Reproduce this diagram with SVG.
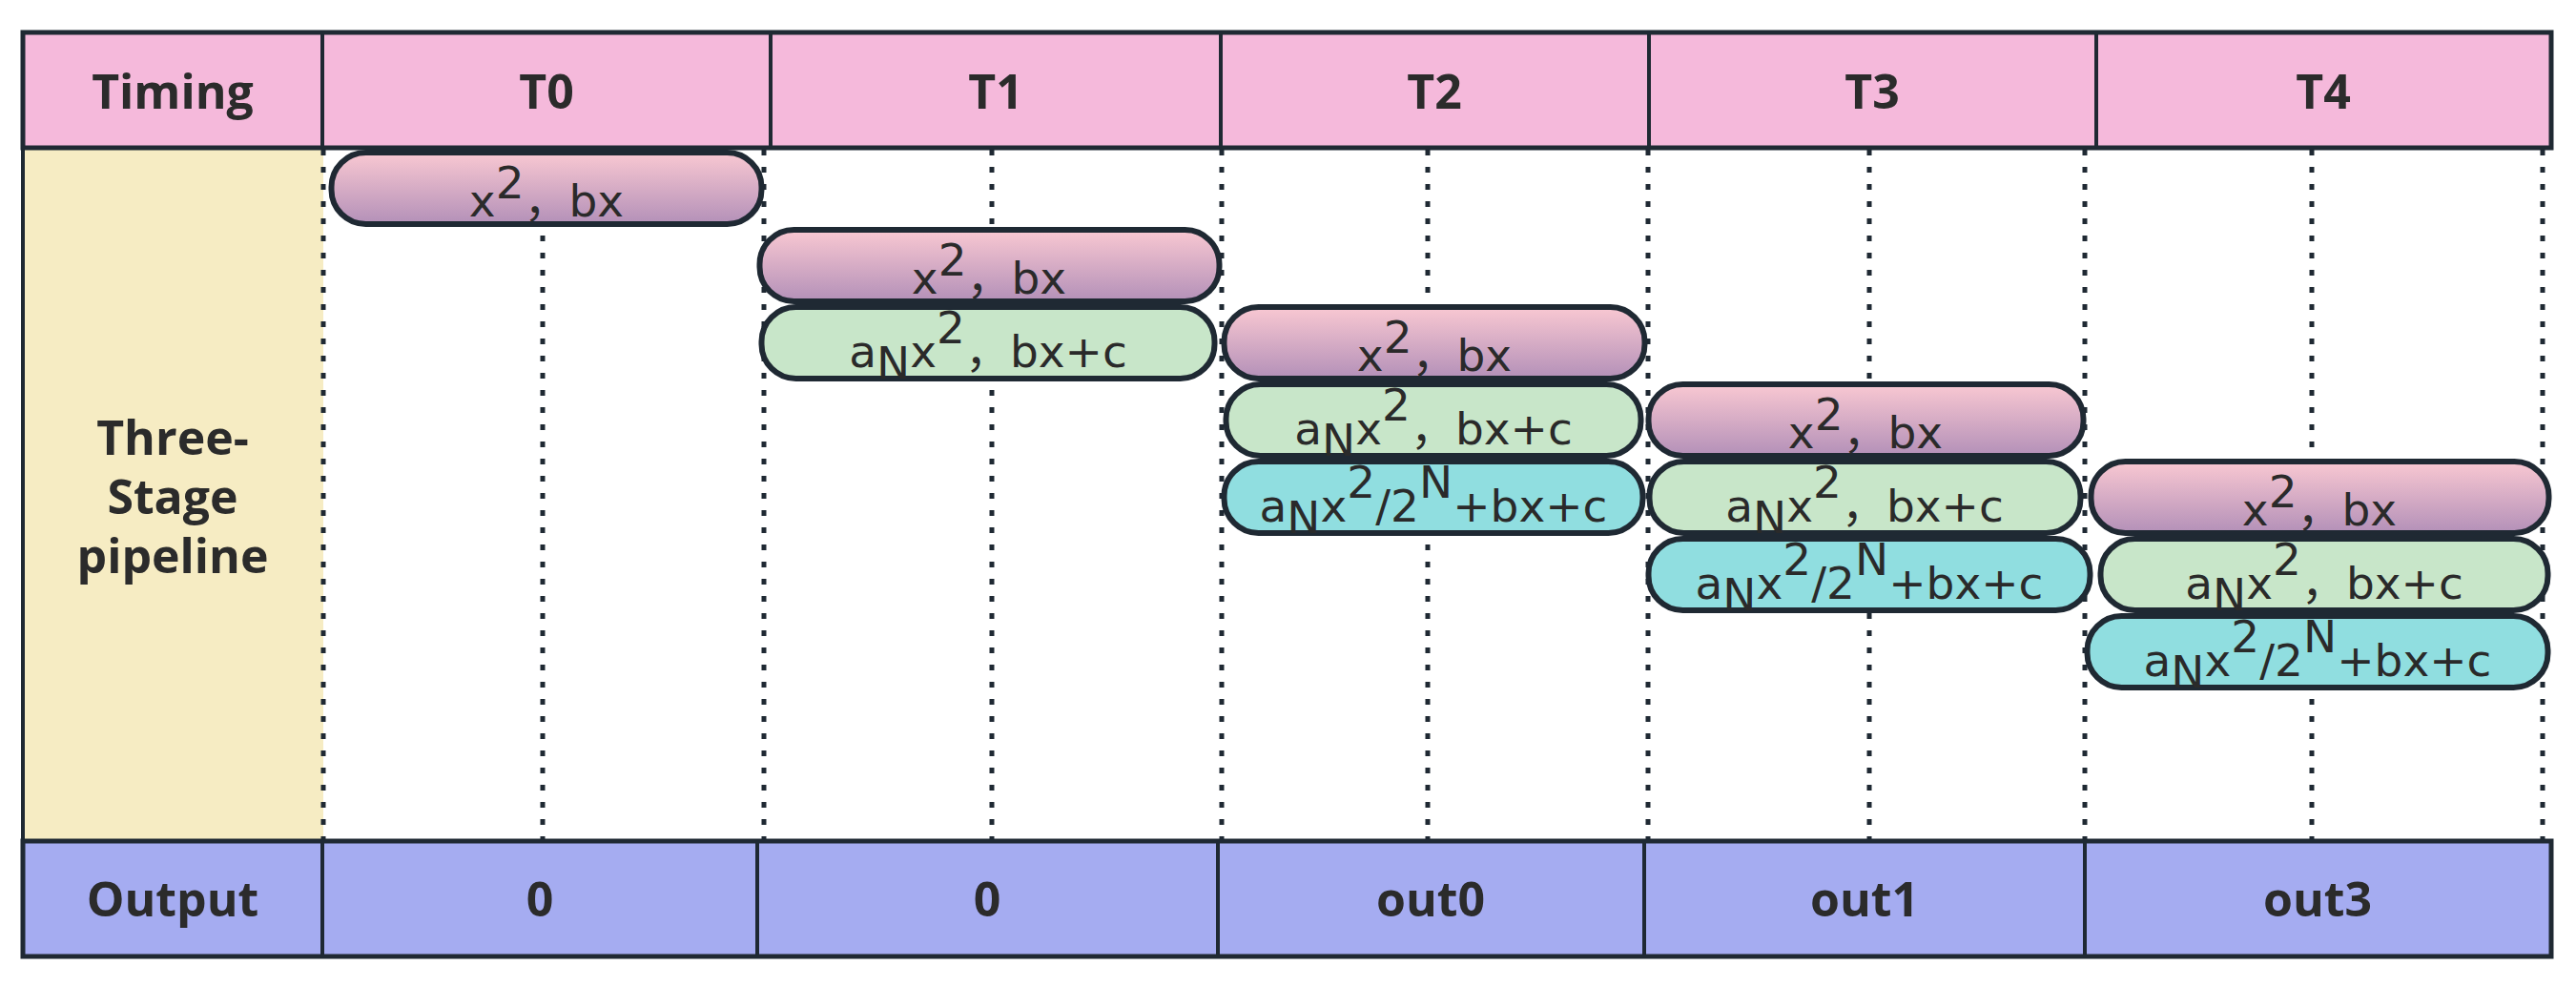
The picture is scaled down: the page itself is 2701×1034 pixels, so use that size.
<svg xmlns="http://www.w3.org/2000/svg" width="2701" height="1034" viewBox="0 0 2701 1034">
<defs>
<linearGradient id="gPink" x1="0" y1="0" x2="0" y2="1">
<stop offset="0" stop-color="#F9C8D2"/>
<stop offset="1" stop-color="#B390B8"/>
</linearGradient>
<style>
.hdr{fill:#F5B9DB;stroke:#1F2933;stroke-width:5}
.out{fill:#A5ACF1;stroke:#1F2933;stroke-width:5}
.sep{stroke:#1F2933;stroke-width:4}
.yel{fill:#F6ECC3}
.lbl{font-family:"Open Sans","Liberation Sans",sans-serif;font-weight:700;font-size:50px;fill:#2B2B2B;text-anchor:middle}
.pill{stroke:#1F2933;stroke-width:6}
.pink{fill:url(#gPink)}
.green{fill:#C8E6C9}
.cyan{fill:#90DEE0}
.ptx{font-family:"DejaVu Sans","Noto Sans CJK SC",sans-serif;font-size:47px;fill:#2A2A2A;text-anchor:middle}
.dot{stroke:#1F2933;stroke-width:5;stroke-dasharray:6 12;fill:none}
</style>
</defs>
<rect width="2701" height="1034" fill="#FFFFFF"/>

<g id="body-bg">
<rect class="yel" x="24" y="155" width="315" height="727"/>
<line class="sep" x1="24" y1="155" x2="24" y2="882" stroke-width="5"/>
</g>

<g id="connectors">
<line class="dot" x1="339" y1="157" x2="339" y2="880"/>
<line class="dot" x1="569" y1="157" x2="569" y2="880"/>
<line class="dot" x1="801" y1="157" x2="801" y2="880"/>
<line class="dot" x1="1040" y1="157" x2="1040" y2="880"/>
<line class="dot" x1="1281" y1="157" x2="1281" y2="880"/>
<line class="dot" x1="1497" y1="157" x2="1497" y2="880"/>
<line class="dot" x1="1728" y1="157" x2="1728" y2="880"/>
<line class="dot" x1="1960" y1="157" x2="1960" y2="880"/>
<line class="dot" x1="2186" y1="157" x2="2186" y2="880"/>
<line class="dot" x1="2424" y1="157" x2="2424" y2="880"/>
<line class="dot" x1="2666" y1="157" x2="2666" y2="880"/>
</g>

<g id="header">
<rect class="hdr" x="24" y="34" width="2651" height="121"/>
<line class="sep" x1="338" y1="34" x2="338" y2="155"/>
<line class="sep" x1="808" y1="34" x2="808" y2="155"/>
<line class="sep" x1="1280" y1="34" x2="1280" y2="155"/>
<line class="sep" x1="1729" y1="34" x2="1729" y2="155"/>
<line class="sep" x1="2198" y1="34" x2="2198" y2="155"/>
</g>
<g id="h-timing"><text class="lbl" x="181" y="114">Timing</text></g>
<g id="h-t0"><text class="lbl" x="573" y="114">T0</text></g>
<g id="h-t1"><text class="lbl" x="1044" y="114">T1</text></g>
<g id="h-t2"><text class="lbl" x="1504" y="114">T2</text></g>
<g id="h-t3"><text class="lbl" x="1963" y="114">T3</text></g>
<g id="h-t4"><text class="lbl" x="2436" y="114">T4</text></g>

<g id="stage-label">
<text class="lbl" x="181" y="477">Three-</text>
<text class="lbl" x="181" y="539">Stage</text>
<text class="lbl" x="181" y="601">pipeline</text>
</g>

<g id="output">
<rect class="out" x="24" y="882" width="2651" height="121"/>
<line class="sep" x1="338" y1="882" x2="338" y2="1003"/>
<line class="sep" x1="794" y1="882" x2="794" y2="1003"/>
<line class="sep" x1="1277" y1="882" x2="1277" y2="1003"/>
<line class="sep" x1="1724" y1="882" x2="1724" y2="1003"/>
<line class="sep" x1="2186" y1="882" x2="2186" y2="1003"/>
</g>
<g id="o-label"><text class="lbl" x="181" y="961">Output</text></g>
<g id="o-t0"><text class="lbl" x="566" y="961">0</text></g>
<g id="o-t1"><text class="lbl" x="1035" y="961">0</text></g>
<g id="o-t2"><text class="lbl" x="1500" y="961">out0</text></g>
<g id="o-t3"><text class="lbl" x="1955" y="961">out1</text></g>
<g id="o-t4"><text class="lbl" x="2430" y="961">out3</text></g>

<!-- T0 -->
<g id="t0-s1">
<rect class="pill pink" x="347.5" y="160" width="451" height="75" rx="36"/>
<text class="ptx" x="573" y="227">x<tspan dy="-19">2</tspan><tspan dy="19">，bx</tspan></text>
</g>

<!-- T1 -->
<g id="t1-s1">
<rect class="pill pink" x="796.5" y="241" width="482" height="75" rx="36"/>
<text class="ptx" x="1037" y="308">x<tspan dy="-19">2</tspan><tspan dy="19">，bx</tspan></text>
</g>
<g id="t1-s2">
<rect class="pill green" x="798.5" y="322" width="475" height="75" rx="36"/>
<text class="ptx" x="1036" y="385">a<tspan dy="12">N</tspan><tspan dy="-12">x</tspan><tspan dy="-25">2</tspan><tspan dy="25">，bx+c</tspan></text>
</g>

<!-- T2 -->
<g id="t2-s1">
<rect class="pill pink" x="1283.5" y="322" width="441" height="75" rx="36"/>
<text class="ptx" x="1504" y="389">x<tspan dy="-19">2</tspan><tspan dy="19">，bx</tspan></text>
</g>
<g id="t2-s2">
<rect class="pill green" x="1285.5" y="403" width="435" height="75" rx="36"/>
<text class="ptx" x="1503" y="466">a<tspan dy="12">N</tspan><tspan dy="-12">x</tspan><tspan dy="-25">2</tspan><tspan dy="25">，bx+c</tspan></text>
</g>
<g id="t2-s3">
<rect class="pill cyan" x="1283.5" y="484" width="439" height="75" rx="36"/>
<text class="ptx" x="1503" y="547">a<tspan dy="12">N</tspan><tspan dy="-12">x</tspan><tspan dy="-25">2</tspan><tspan dy="25">/2</tspan><tspan dy="-25">N</tspan><tspan dy="25">+bx+c</tspan></text>
</g>

<!-- T3 -->
<g id="t3-s1">
<rect class="pill pink" x="1728.5" y="403" width="456" height="75" rx="36"/>
<text class="ptx" x="1956" y="470">x<tspan dy="-19">2</tspan><tspan dy="19">，bx</tspan></text>
</g>
<g id="t3-s2">
<rect class="pill green" x="1729.5" y="484" width="452" height="75" rx="36"/>
<text class="ptx" x="1955" y="547">a<tspan dy="12">N</tspan><tspan dy="-12">x</tspan><tspan dy="-25">2</tspan><tspan dy="25">，bx+c</tspan></text>
</g>
<g id="t3-s3">
<rect class="pill cyan" x="1728.5" y="565" width="463" height="75" rx="36"/>
<text class="ptx" x="1960" y="628">a<tspan dy="12">N</tspan><tspan dy="-12">x</tspan><tspan dy="-25">2</tspan><tspan dy="25">/2</tspan><tspan dy="-25">N</tspan><tspan dy="25">+bx+c</tspan></text>
</g>

<!-- T4 -->
<g id="t4-s1">
<rect class="pill pink" x="2192.5" y="484" width="480" height="75" rx="36"/>
<text class="ptx" x="2432" y="551">x<tspan dy="-19">2</tspan><tspan dy="19">，bx</tspan></text>
</g>
<g id="t4-s2">
<rect class="pill green" x="2202.5" y="565" width="469" height="75" rx="36"/>
<text class="ptx" x="2437" y="628">a<tspan dy="12">N</tspan><tspan dy="-12">x</tspan><tspan dy="-25">2</tspan><tspan dy="25">，bx+c</tspan></text>
</g>
<g id="t4-s3">
<rect class="pill cyan" x="2188.5" y="646" width="483" height="75" rx="36"/>
<text class="ptx" x="2430" y="709">a<tspan dy="12">N</tspan><tspan dy="-12">x</tspan><tspan dy="-25">2</tspan><tspan dy="25">/2</tspan><tspan dy="-25">N</tspan><tspan dy="25">+bx+c</tspan></text>
</g>
</svg>
